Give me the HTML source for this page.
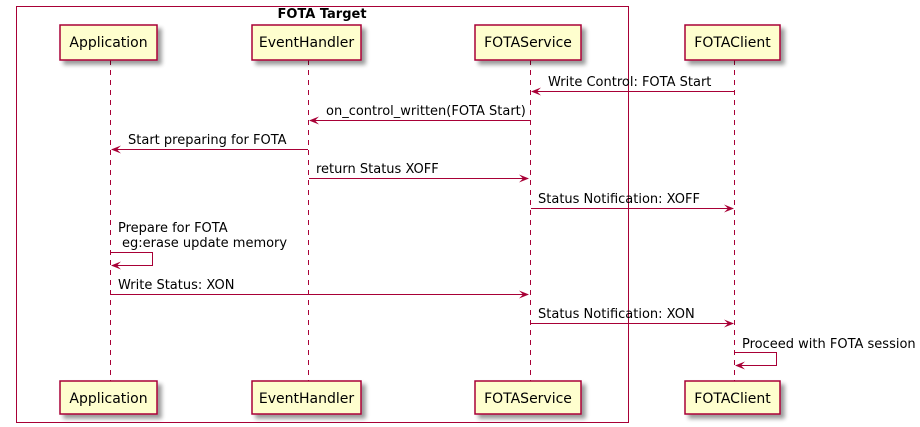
<!DOCTYPE html>
<html><head><meta charset="utf-8"><style>
html,body{margin:0;padding:0;background:#fff;}
svg{display:block;}
text{font-family:"DejaVu Sans","Liberation Sans",sans-serif;font-size:13px;fill:#000;}
.p{font-size:14px;}
</style></head><body>
<svg width="920" height="427" viewBox="0 0 920 427" xmlns="http://www.w3.org/2000/svg">
<defs>
<filter id="sh" x="-20%" y="-20%" width="150%" height="160%"><feGaussianBlur in="SourceAlpha" stdDeviation="2"/><feOffset dx="4" dy="4"/><feComponentTransfer><feFuncA type="linear" slope="0.4"/></feComponentTransfer><feMerge><feMergeNode/><feMergeNode in="SourceGraphic"/></feMerge></filter>
</defs>
<rect x="16.5" y="6.5" width="612" height="416" fill="none" stroke="#A80036" stroke-width="1"/>
<text x="322" y="18" text-anchor="middle" style="font-weight:bold;font-size:13px">FOTA Target</text>
<g stroke="#A80036" stroke-width="1" stroke-dasharray="5,5">
<line x1="110.5" y1="60" x2="110.5" y2="381"/>
<line x1="308.5" y1="60" x2="308.5" y2="381"/>
<line x1="530.5" y1="60" x2="530.5" y2="381"/>
<line x1="734.5" y1="60" x2="734.5" y2="381"/>
</g>
<g fill="#FEFECE" stroke="#A80036" stroke-width="1.5" filter="url(#sh)">
<rect x="60" y="25" width="97" height="35"/>
<rect x="252" y="25" width="109" height="35"/>
<rect x="475" y="25" width="106" height="35"/>
<rect x="685" y="25" width="95" height="35"/>
<rect x="60" y="381" width="97" height="33"/>
<rect x="252" y="381" width="109" height="33"/>
<rect x="475" y="381" width="106" height="33"/>
<rect x="685" y="381" width="95" height="33"/>
</g>
<g class="p" text-anchor="middle">
<text class="p" x="108.5" y="47">Application</text>
<text class="p" x="306.5" y="47">EventHandler</text>
<text class="p" x="528" y="47">FOTAService</text>
<text class="p" x="732.5" y="47">FOTAClient</text>
<text class="p" x="108.5" y="403">Application</text>
<text class="p" x="306.5" y="403">EventHandler</text>
<text class="p" x="528" y="403">FOTAService</text>
<text class="p" x="732.5" y="403">FOTAClient</text>
</g>
<g stroke="#A80036" stroke-width="1" fill="none">
<line x1="734" y1="91.5" x2="532" y2="91.5"/>
<line x1="530" y1="120.5" x2="310" y2="120.5"/>
<line x1="308" y1="149.5" x2="112" y2="149.5"/>
<line x1="309" y1="178.5" x2="528" y2="178.5"/>
<line x1="531" y1="208.5" x2="733" y2="208.5"/>
<polyline points="111,252.5 152.5,252.5 152.5,265.5 112,265.5"/>
<line x1="111" y1="294.5" x2="528" y2="294.5"/>
<line x1="531" y1="323.5" x2="733" y2="323.5"/>
<polyline points="735,352.5 776.5,352.5 776.5,365.5 737,365.5"/>
</g>
<g fill="#A80036">
<polygon points="531,91.5 541,87.5 537,91.5 541,95.5"/>
<polygon points="309,120.5 319,116.5 315,120.5 319,124.5"/>
<polygon points="111,149.5 121,145.5 117,149.5 121,153.5"/>
<polygon points="529,178.5 519,174.5 523,178.5 519,182.5"/>
<polygon points="734,208.5 724,204.5 728,208.5 724,212.5"/>
<polygon points="111,265.5 121,261.5 117,265.5 121,269.5"/>
<polygon points="529,294.5 519,290.5 523,294.5 519,298.5"/>
<polygon points="734,323.5 724,319.5 728,323.5 724,327.5"/>
<polygon points="735,365.5 745,361.5 741,365.5 745,369.5"/>
</g>
<text x="548" y="86">Write Control: FOTA Start</text>
<text x="326" y="115">on_control_written(FOTA Start)</text>
<text x="128" y="144">Start preparing for FOTA</text>
<text x="316" y="173">return Status XOFF</text>
<text x="538" y="203">Status Notification: XOFF</text>
<text x="118" y="232">Prepare for FOTA</text>
<text x="122" y="247">eg:erase update memory</text>
<text x="118" y="289">Write Status: XON</text>
<text x="538" y="318">Status Notification: XON</text>
<text x="742" y="348">Proceed with FOTA session</text>
</svg>
</body></html>
